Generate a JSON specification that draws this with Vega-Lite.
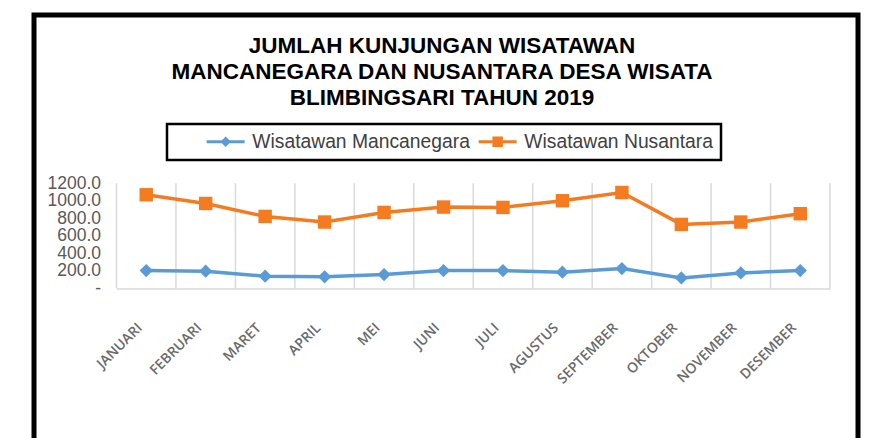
{
  "$schema": "https://vega.github.io/schema/vega-lite/v6.json",
  "width": 824,
  "height": 440,
  "autosize": {"type": "none"},
  "padding": {"left": 34, "top": 15, "right": 13, "bottom": 0},
  "background": "white",
  "config": {"view": {"stroke": "#000000", "strokeWidth": 5}, "legend": {"strokeWidth": 2.5}},
  "title": {
    "text": ["JUMLAH KUNJUNGAN WISATAWAN", "MANCANEGARA DAN NUSANTARA DESA WISATA", "BLIMBINGSARI TAHUN 2019"],
    "font": "Liberation Sans",
    "fontSize": 22.5,
    "fontWeight": "bold",
    "color": "#000000",
    "lineHeight": 26,
    "anchor": "middle",
    "frame": "group",
    "orient": "top",
    "baseline": "alphabetic",
    "offset": -112,
    "dx": -4
  },
  "data": {
    "values": [
      {"month": "JANUARI", "series": "Wisatawan Mancanegara", "value": 205},
      {"month": "FEBRUARI", "series": "Wisatawan Mancanegara", "value": 197},
      {"month": "MARET", "series": "Wisatawan Mancanegara", "value": 140},
      {"month": "APRIL", "series": "Wisatawan Mancanegara", "value": 133},
      {"month": "MEI", "series": "Wisatawan Mancanegara", "value": 159},
      {"month": "JUNI", "series": "Wisatawan Mancanegara", "value": 205},
      {"month": "JULI", "series": "Wisatawan Mancanegara", "value": 205},
      {"month": "AGUSTUS", "series": "Wisatawan Mancanegara", "value": 186},
      {"month": "SEPTEMBER", "series": "Wisatawan Mancanegara", "value": 227},
      {"month": "OKTOBER", "series": "Wisatawan Mancanegara", "value": 121},
      {"month": "NOVEMBER", "series": "Wisatawan Mancanegara", "value": 178},
      {"month": "DESEMBER", "series": "Wisatawan Mancanegara", "value": 205},
      {"month": "JANUARI", "series": "Wisatawan Nusantara", "value": 1069},
      {"month": "FEBRUARI", "series": "Wisatawan Nusantara", "value": 970},
      {"month": "MARET", "series": "Wisatawan Nusantara", "value": 822},
      {"month": "APRIL", "series": "Wisatawan Nusantara", "value": 758},
      {"month": "MEI", "series": "Wisatawan Nusantara", "value": 868},
      {"month": "JUNI", "series": "Wisatawan Nusantara", "value": 929},
      {"month": "JULI", "series": "Wisatawan Nusantara", "value": 925},
      {"month": "AGUSTUS", "series": "Wisatawan Nusantara", "value": 1001},
      {"month": "SEPTEMBER", "series": "Wisatawan Nusantara", "value": 1095},
      {"month": "OKTOBER", "series": "Wisatawan Nusantara", "value": 731},
      {"month": "NOVEMBER", "series": "Wisatawan Nusantara", "value": 758},
      {"month": "DESEMBER", "series": "Wisatawan Nusantara", "value": 853}
    ]
  },
  "encoding": {
    "x": {
      "field": "month",
      "type": "nominal",
      "sort": null,
      "scale": {"type": "band", "range": [82.5, 796], "paddingInner": 0, "paddingOuter": 0},
      "axis": {
        "orient": "bottom",
        "offset": -166.5,
        "title": null,
        "ticks": false,
        "grid": false,
        "domainColor": "#d9d9d9",
        "domainWidth": 1.5,
        "labelAngle": -45,
        "labelPadding": 32,
        "labelOffset": -11,
        "labelFont": "Open Sans",
        "labelFontSize": 14,
        "labelFontWeight": 600,
        "labelColor": "#6b6b6b",
        "labelOverlap": false,
        "labelLimit": 0
      }
    },
    "y": {
      "field": "value",
      "type": "quantitative",
      "scale": {"domain": [-1899.2, 3119.6], "nice": false, "zero": false},
      "axis": {
        "orient": "left",
        "offset": -82.5,
        "values": [0, 200, 400, 600, 800, 1000, 1200],
        "title": null,
        "domain": false,
        "ticks": false,
        "grid": false,
        "labelPadding": 16,
        "labelFont": "Liberation Sans",
        "labelFontSize": 17.5,
        "labelColor": "#595959",
        "labelOverlap": false,
        "labelExpr": "datum.value === 0 ? '-\u00a0\u00a0\u00a0\u00a0' : format(datum.value, '.1f')"
      }
    }
  },
  "layer": [
    {
      "transform": [{"filter": "datum.series === 'Wisatawan Nusantara'"}],
      "mark": {"type": "rule", "color": "#d9d9d9", "strokeWidth": 1.5},
      "encoding": {
        "x": {"field": "month", "type": "nominal", "sort": null, "bandPosition": 0},
        "y": {"datum": 0, "type": "quantitative"},
        "y2": {"datum": 1200}
      }
    },
    {
      "transform": [{"filter": "datum.series === 'Wisatawan Nusantara' && datum.month === 'DESEMBER'"}],
      "mark": {"type": "rule", "color": "#d9d9d9", "strokeWidth": 1.5},
      "encoding": {
        "x": {"field": "month", "type": "nominal", "sort": null, "bandPosition": 1},
        "y": {"datum": 0, "type": "quantitative"},
        "y2": {"datum": 1200}
      }
    },
    {
      "mark": {"type": "point", "filled": true, "opacity": 0, "size": 1},
      "encoding": {
        "color": {
          "field": "series",
          "type": "nominal",
          "scale": {"domain": ["Wisatawan Mancanegara", "Wisatawan Nusantara"], "range": ["#5B9BD5", "#F47B20"]},
          "legend": {
            "orient": "none",
            "legendX": 133,
            "legendY": 109,
            "direction": "horizontal",
            "title": " ",
            "titleOrient": "left",
            "titleFontSize": 1,
            "titlePadding": 41,
            "padding": 8,
            "symbolSize": 361,
            "symbolOffset": 0,
            "symbolOpacity": 1,
            "symbolStrokeWidth": 0,
            "symbolType": "square",
            "labelOffset": 17,
            "columnPadding": 8,
            "labelFont": "Liberation Sans",
            "labelFontSize": 19.3,
            "labelColor": "#404040",
            "labelLimit": 0,
            "strokeColor": "#000000"
          }
        },
        "shape": {
          "field": "series",
          "type": "nominal",
          "scale": {
            "domain": ["Wisatawan Mancanegara", "Wisatawan Nusantara"],
            "range": ["M-2,-0.16H2V0.16H-2Z M0,-0.55L0.55,0L0,0.55L-0.55,0Z", "M-2,-0.16H2V0.16H-2Z M-0.55,-0.55H0.55V0.55H-0.55Z"]
          }
        }
      }
    },
    {
      "mark": {"type": "line", "strokeWidth": 3.5},
      "encoding": {"color": {"field": "series", "type": "nominal"}}
    },
    {
      "transform": [{"filter": "datum.series === 'Wisatawan Mancanegara'"}],
      "mark": {"type": "point", "filled": true, "opacity": 1, "size": 175, "shape": "diamond"},
      "encoding": {"color": {"field": "series", "type": "nominal"}}
    },
    {
      "transform": [{"filter": "datum.series === 'Wisatawan Nusantara'"}],
      "mark": {"type": "point", "filled": true, "opacity": 1, "size": 180, "shape": "square"},
      "encoding": {"color": {"field": "series", "type": "nominal"}}
    }
  ]
}
